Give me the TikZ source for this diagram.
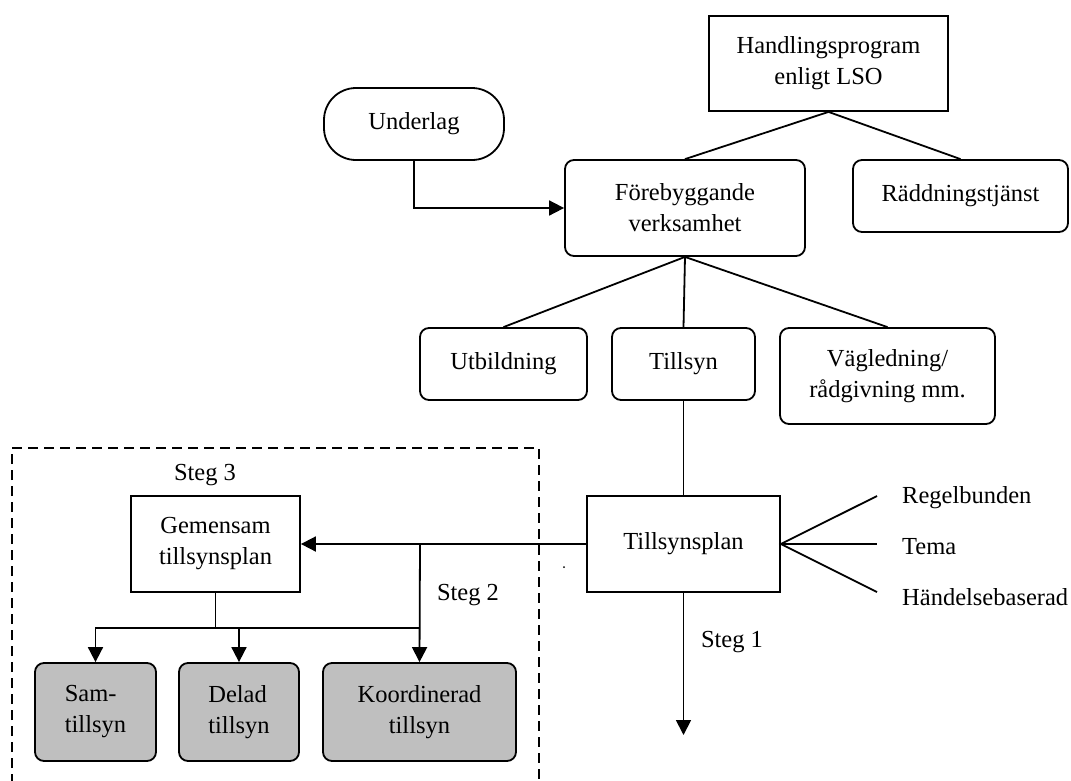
\documentclass[tikz,border=0pt]{standalone}
\usepackage{fontspec}
\setmainfont{Liberation Serif}
\usetikzlibrary{arrows.meta}
\begin{document}
\begin{tikzpicture}[x=1pt,y=-1pt,
  every node/.style={font=\fontsize{24.5}{31}\selectfont},
  box/.style={draw,line width=1.8pt,align=center,inner sep=0pt},
  rbox/.style={box,rounded corners=9pt},
  gbox/.style={rbox,fill=black!25},
  lbl/.style={inner sep=0pt},
  link/.style={line width=1.8pt},
  arr/.style={link,-{Triangle[length=15pt,width=15pt]}}
]
\clip (0,0) rectangle (1071,780);
\fill[white] (0,0) rectangle (1071,780);

% boxes
\node[box,minimum width=239pt,minimum height=95pt] (hp) at (828.5,63.5) {Handlingsprogram\\enligt LSO};
\node[box,rounded corners=32pt,minimum width=180pt,minimum height=72pt] (ul) at (414,124) {Underlag};
\node[rbox,minimum width=240pt,minimum height=96pt] (fv) at (685,208) {Förebyggande\\verksamhet};
\node[rbox,minimum width=215pt,minimum height=72pt] (rt) at (960.5,196) {Räddningstjänst};
\node[rbox,minimum width=167pt,minimum height=72pt] (ut) at (503.5,364) {Utbildning};
\node[rbox,minimum width=143pt,minimum height=72pt] (ts) at (683.5,364) {Tillsyn};
\node[rbox,minimum width=215pt,minimum height=96pt] (vg) at (887.5,376) {Vägledning/\\rådgivning mm.};
\node[box,minimum width=193pt,minimum height=96pt] (tp) at (683.5,544) {Tillsynsplan};
\node[box,minimum width=169pt,minimum height=96pt] (gt) at (215.5,544) {Gemensam\\tillsynsplan};
\node[gbox,align=left,minimum width=121pt,minimum height=98pt] (sam) at (95.5,712) {Sam-\\tillsyn};
\node[gbox,align=left,minimum width=120pt,minimum height=98pt] (del) at (239,712) {Delad\\tillsyn};
\node[gbox,minimum width=193pt,minimum height=98pt] (koo) at (419.5,712) {Koordinerad\\tillsyn};

% dashed frame around the joint supervision part
\draw[line width=1.8pt,dash pattern=on 10pt off 6pt] (12,800) -- (12,448) -- (539,448) -- (539,800);

% labels
\node[lbl] (s3) at (205,475) {Steg 3};
\node[lbl] (s2) at (468,595) {Steg 2};
\node[lbl] (s1) at (732,642) {Steg 1};
\node[lbl,anchor=west] (reg) at (902,498) {Regelbunden};
\node[lbl,anchor=west] (tema) at (902,547) {Tema};
\node[lbl,anchor=west] (hb) at (902,597) {Händelsebaserad};
\fill (564,567) circle (1pt);

% free ends
\coordinate (r1) at (877,496);
\coordinate (r2) at (877,544);
\coordinate (r3) at (877,592);
\coordinate (end) at (683.5,735);
\coordinate (j) at (420,544);
\coordinate (bus) at (215.5,628);

% connectors
\draw[arr] (ul.south) |- (fv.west);
\draw[link] (hp.south) -- (fv.north);
\draw[link] (hp.south) -- (rt.north);
\draw[link] (fv.south) -- (ut.north);
\draw[link] (fv.south) -- (ts.north);
\draw[link] (fv.south) -- (vg.north);
\draw[link] (ts.south) -- (tp.north);
\draw[link] (r1) -- (tp.east) -- (r3);
\draw[link] (tp.east) -- (r2);
\draw[arr] (tp.south) -- (end);
\draw[arr] (tp.west) -- (gt.east);
\draw[arr] (j) -- (koo.north);
\draw[link] (gt.south) -- (bus);
\draw[link] (bus) -- (j |- bus);
\draw[arr] (bus) -| (sam.north);
\draw[arr] (bus) -| (del.north);
\end{tikzpicture}
\end{document}
